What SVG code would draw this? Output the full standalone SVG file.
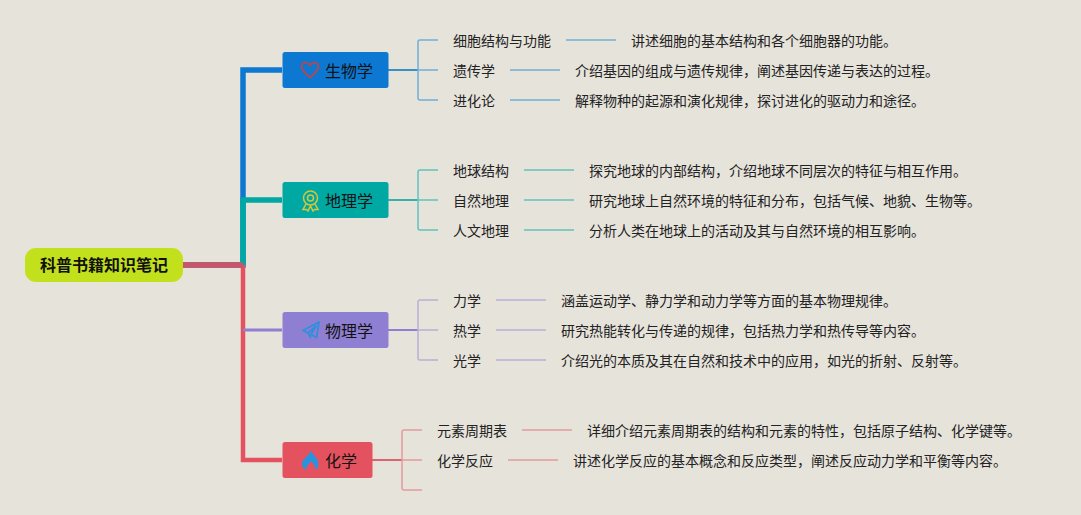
<svg xmlns="http://www.w3.org/2000/svg" width="1081" height="515" viewBox="0 0 1081 515">
<style>
text{font-family:"Noto Sans CJK SC","Noto Sans",sans-serif;fill:#111;}
.t{font-size:14px;fill:#222;}
.m{font-size:16px;}
.r{font-size:16px;font-weight:700;}
.n{stroke:none;}
.l{fill:none;stroke-width:1.500;}
.bl{stroke:#6fb0d8}.tl{stroke:#62c2bd}.pl{stroke:#b9afd8}.rl{stroke:#e59a9f}
</style>
<rect width="1081" height="515" fill="#e6e3db"/>
<g id="connectors">
<path d="M183 265H243V70H282" fill="none" stroke="#0c78d2" stroke-width="5.500"/>
<path d="M243 265V200H282" fill="none" stroke="#00a8a4" stroke-width="5.500"/>
<path d="M243 265V460H282" fill="none" stroke="#e5525f" stroke-width="4.500"/>
<path d="M243 330H282" fill="none" stroke="#8f7fd2" stroke-width="3"/>
<path d="M183 265H243" fill="none" stroke="#cc5565" stroke-width="5.500"/>
<path d="M388 70H418" stroke="#3a8fc4" stroke-width="2" fill="none"/>
<path d="M388 200H418" stroke="#3ab0ae" stroke-width="2" fill="none"/>
<path d="M388 330H418" stroke="#8f7fd2" stroke-width="2" fill="none"/>
<path d="M372 460H402" stroke="#d9636e" stroke-width="2" fill="none"/>
<path class="l bl" d="M438 40H420Q418 40 418 42V98Q418 100 420 100H438M418 70H438"/>
<path class="l tl" d="M438 170H420Q418 170 418 172V228Q418 230 420 230H438M418 200H438"/>
<path class="l pl" d="M438 300H420Q418 300 418 302V358Q418 360 420 360H438M418 330H438"/>
<path class="l rl" d="M422 430H404Q402 430 402 432V488Q402 490 404 490H422M402 460H422"/>
<path class="l bl" d="M566 40H616M510 70H560M510 100H560"/>
<path class="l tl" d="M524 170H574M524 200H574M524 230H574"/>
<path class="l pl" d="M496 300H546M496 330H546M496 360H546"/>
<path class="l rl" d="M522 430H572M508 460H558"/>
</g>
<g id="root"><rect x="25" y="248" width="158" height="34" rx="11" fill="#c3e01c"/><text class="r" x="104" y="271" text-anchor="middle">科普书籍知识笔记</text></g>
<g id="bio"><rect x="282.500" y="52" width="106" height="36" rx="2.500" fill="#0c78d2"/>
<path d="M310 77.500C305 73 301.500 70 301.500 66.500C301.500 63.500 305 61.500 307.500 63C308.800 63.700 309.500 64.500 310 65.500C310.500 64.500 311.200 63.700 312.500 63C315 61.500 318.500 63.500 318.500 66.500C318.500 70 315 73 310 77.500Z" fill="none" stroke="#b5474f" stroke-width="1.800"/>
<text class="m" x="325" y="77">生物学</text></g>
<g id="geo"><rect x="282.500" y="182" width="106" height="36" rx="2.500" fill="#00a8a4"/>
<circle cx="310.500" cy="198" r="7" fill="none" stroke="#d4c73a" stroke-width="1.500"/><circle cx="310.500" cy="198" r="3" fill="none" stroke="#d4c73a" stroke-width="1.500"/>
<path d="M306 204L303 209.500L306.500 209.500L308 211L310.500 206L313 211L314.500 209.500L318 209.500L315 204" fill="none" stroke="#d4c73a" stroke-width="1.500"/>
<text class="m" x="325" y="207">地理学</text></g>
<g id="phy"><rect x="282.500" y="312" width="106" height="36" rx="2.500" fill="#8f7fd2"/>
<path d="M319 322L303 330.500L308 333L316 326L311 334.500L316.500 337.500ZM308 333L311 338" fill="none" stroke="#2f8fdc" stroke-width="1.800" stroke-linejoin="round"/>
<text class="m" x="325" y="337">物理学</text></g>
<g id="chem"><rect x="282.500" y="442" width="90" height="36" rx="2.500" fill="#e5525f"/>
<path d="M310.500 450.500C312 454 318.500 457.500 318.500 464C318.500 467 317 469.500 315.500 470C315.800 466.500 313.500 463.500 311 461.500C309 464 306 466 306.500 470C303.500 469 302 466.500 302 463.500C302 458.500 309.500 456 310.500 450.500Z" fill="#2c92de"/>
<text class="m" x="325" y="467">化学</text></g>
<g id="bio-kids"><text class="t" x="453" y="46">细胞结构与功能</text><text class="t" x="631" y="46">讲述细胞的基本结构和各个细胞器的功能。</text><text class="t" x="453" y="76">遗传学</text><text class="t" x="575" y="76">介绍基因的组成与遗传规律，阐述基因传递与表达的过程。</text><text class="t" x="453" y="106">进化论</text><text class="t" x="575" y="106">解释物种的起源和演化规律，探讨进化的驱动力和途径。</text></g>
<g id="geo-kids"><text class="t" x="453" y="176">地球结构</text><text class="t" x="589" y="176">探究地球的内部结构，介绍地球不同层次的特征与相互作用。</text><text class="t" x="453" y="206">自然地理</text><text class="t" x="589" y="206">研究地球上自然环境的特征和分布，包括气候、地貌、生物等。</text><text class="t" x="453" y="236">人文地理</text><text class="t" x="589" y="236">分析人类在地球上的活动及其与自然环境的相互影响。</text></g>
<g id="phy-kids"><text class="t" x="453" y="306">力学</text><text class="t" x="561" y="306">涵盖运动学、静力学和动力学等方面的基本物理规律。</text><text class="t" x="453" y="336">热学</text><text class="t" x="561" y="336">研究热能转化与传递的规律，包括热力学和热传导等内容。</text><text class="t" x="453" y="366">光学</text><text class="t" x="561" y="366">介绍光的本质及其在自然和技术中的应用，如光的折射、反射等。</text></g>
<g id="chem-kids"><text class="t" x="437" y="436">元素周期表</text><text class="t" x="587" y="436">详细介绍元素周期表的结构和元素的特性，包括原子结构、化学键等。</text><text class="t" x="437" y="466">化学反应</text><text class="t" x="573" y="466">讲述化学反应的基本概念和反应类型，阐述反应动力学和平衡等内容。</text></g>
</svg>
